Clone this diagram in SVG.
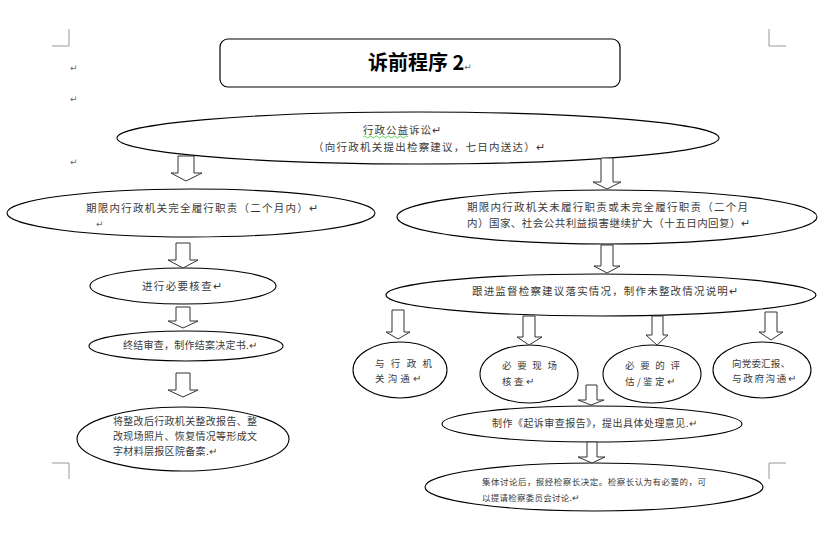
<svg xmlns="http://www.w3.org/2000/svg" width="836" height="535" viewBox="0 0 836 535">
<style>
.bg{fill:#fff}
.node ellipse{fill:#fff;stroke:#000;stroke-width:1.1}
.t{font-family:"Noto Sans CJK SC","Liberation Sans",sans-serif;fill:#3a3a3a;font-size:10.5px}
.s10{font-size:10px}
.s95{font-size:9.5px}
.s85{font-size:8.5px}
.pm{font-family:"DejaVu Sans","Noto Sans CJK SC",sans-serif;fill:#666;font-size:9px}
.arrow polygon{fill:#fff;stroke:#333;stroke-width:1}
.corner{fill:none;stroke:#999;stroke-width:1}
</style>
<rect class="bg" x="0" y="0" width="836" height="535"/>
<g id="corners">
<path class="corner" d="M69,29 V46 H52"/>
<path class="corner" d="M769,29 V46 H786"/>
<path class="corner" d="M52,463 H69 V479"/>
<path class="corner" d="M786,463 H769 V479"/>
</g>
<g id="margin-marks">
<text class="pm" x="70" y="71">↵</text>
<text class="pm" x="70" y="102">↵</text>
<text class="pm" x="70" y="165">↵</text>
</g>
<g id="title">
<rect x="220" y="39" width="400" height="48" rx="8" ry="8" fill="#fff" stroke="#000" stroke-width="1.2"/>
<text x="368" y="70" font-family="'Noto Sans CJK SC',sans-serif" font-size="20" font-weight="bold" fill="#000">诉前程序 2<tspan font-size="9" font-weight="normal" fill="#666" font-family="'DejaVu Sans',sans-serif">↵</tspan></text>
</g>
<g id="node-a" class="node">
<ellipse cx="418" cy="138" rx="301" ry="26"/>
<text class="t" x="363" y="134" textLength="78" lengthAdjust="spacing">行政公益诉讼↵</text>
<path d="M363,137 q1.5,-2 3,0 t3,0 t3,0 t3,0 t3,0 t3,0 t3,0 t3,0 t3,0 t3,0 t3,0 t3,0 t3,0 t3,0 t3,0" fill="none" stroke="#3c3" stroke-width="0.8"/>
<text class="t" x="313" y="151" textLength="232" lengthAdjust="spacing">（向行政机关提出检察建议，七日内送达）↵</text>
</g>
<g id="node-b" class="node">
<ellipse cx="191" cy="213" rx="184" ry="24"/>
<text class="t" x="86" y="212" textLength="232" lengthAdjust="spacing">期限内行政机关完全履行职责（二个月内）↵</text>
<text class="pm" x="96" y="227">↵</text>
</g>
<g id="node-c" class="node">
<ellipse cx="183" cy="286" rx="93" ry="18"/>
<text class="t" x="142" y="290" textLength="80" lengthAdjust="spacing">进行必要核查↵</text>
</g>
<g id="node-d" class="node">
<ellipse cx="186" cy="346" rx="97" ry="15"/>
<text class="t s10" x="123" y="349" textLength="134" lengthAdjust="spacing">终结审查，制作结案决定书.↵</text>
</g>
<g id="node-e" class="node">
<ellipse cx="183" cy="439" rx="106" ry="32"/>
<text class="t s10" x="113" y="425" textLength="144" lengthAdjust="spacing">将整改后行政机关整改报告、整</text>
<text class="t s10" x="113" y="440" textLength="144" lengthAdjust="spacing">改现场照片、恢复情况等形成文</text>
<text class="t s10" x="113" y="455" textLength="104" lengthAdjust="spacing">字材料层报区院备案.↵</text>
</g>
<g id="node-f" class="node">
<ellipse cx="607" cy="217" rx="210" ry="27"/>
<text class="t" x="467" y="211" textLength="281" lengthAdjust="spacing">期限内行政机关未履行职责或未完全履行职责（二个月</text>
<text class="t" x="467" y="227" textLength="283" lengthAdjust="spacing">内）国家、社会公共利益损害继续扩大（十五日内回复）↵</text>
</g>
<g id="node-g" class="node">
<ellipse cx="601" cy="295" rx="215" ry="21"/>
<text class="t" x="472" y="295" textLength="266" lengthAdjust="spacing">跟进监督检察建议落实情况，制作未整改情况说明↵</text>
</g>
<g id="node-g1" class="node">
<ellipse cx="400" cy="370" rx="47" ry="28"/>
<text class="t s95" x="375" y="367" textLength="57" lengthAdjust="spacing">与行政机</text>
<text class="t s95" x="375" y="382" textLength="46" lengthAdjust="spacing">关沟通↵</text>
</g>
<g id="node-g2" class="node">
<ellipse cx="529" cy="374" rx="49" ry="29"/>
<text class="t s95" x="502" y="369" textLength="55" lengthAdjust="spacing">必要现场</text>
<text class="t s95" x="502" y="385" textLength="32" lengthAdjust="spacing">核查↵</text>
</g>
<g id="node-g3" class="node">
<ellipse cx="652" cy="374" rx="49" ry="29"/>
<text class="t s95" x="625" y="369" textLength="55" lengthAdjust="spacing">必要的评</text>
<text class="t s95" x="625" y="385" textLength="50" lengthAdjust="spacing">估/鉴定↵</text>
</g>
<g id="node-g4" class="node">
<ellipse cx="762" cy="370" rx="49" ry="28"/>
<text class="t s95" x="732" y="367" textLength="58" lengthAdjust="spacing">向党委汇报、</text>
<text class="t s95" x="732" y="382" textLength="64" lengthAdjust="spacing">与政府沟通↵</text>
</g>
<g id="node-h" class="node">
<ellipse cx="592" cy="424" rx="150" ry="18"/>
<text class="t s10" x="492" y="427" textLength="205" lengthAdjust="spacing">制作《起诉审查报告》，提出具体处理意见.↵</text>
</g>
<g id="node-i" class="node">
<ellipse cx="594" cy="487" rx="169" ry="24"/>
<text class="t s85" x="482" y="485" textLength="224" lengthAdjust="spacing">集体讨论后，报经检察长决定。检察长认为有必要的，可</text>
<text class="t s85" x="482" y="501" textLength="98" lengthAdjust="spacing">以提请检察委员会讨论.↵</text>
</g>
<g id="connectors" class="arrow">
<polygon points="178,156 194,156 194,173 202,173 186,181 171,173 178,173"/>
<polygon points="176,243 190,243 190,260 198,260 183,268 168,260 176,260"/>
<polygon points="176,307 190,307 190,321 198,321 183,328 168,321 176,321"/>
<polygon points="176,373 190,373 190,390 198,390 183,397 168,390 176,390"/>
<polygon points="601,158 613,158 613,182 621,182 607,189 593,182 601,182"/>
<polygon points="601,245 613,245 613,266 620,266 607,273 594,266 601,266"/>
<polygon points="392,310 404,310 404,332 410,332 398,339 386,332 392,332"/>
<polygon points="523,316 535,316 535,337 542,337 529,345 517,337 523,337"/>
<polygon points="652,316 663,316 663,335 668,335 657,345 646,335 652,335"/>
<polygon points="765,312 777,312 777,332 783,332 771,340 759,332 765,332"/>
<polygon points="586,385 597,385 597,400 604,400 591,405 578,400 586,400"/>
<polygon points="587,442 597,442 597,457 605,457 592,463 578,457 587,457"/>
</g>
</svg>
